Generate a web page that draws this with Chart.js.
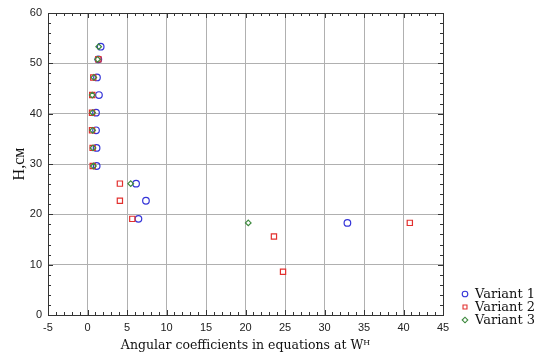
<!DOCTYPE html>
<html>
<head>
<meta charset="utf-8">
<script src="https://cdn.jsdelivr.net/npm/chart.js@4"></script>
<style>
  html, body { margin: 0; padding: 0; background: #fff; }
  #wrap { width: 537px; height: 354px; }
</style>
</head>
<body>
<div id="wrap"><canvas id="chart" width="537" height="354"></canvas></div>
<script>
// values
const seriesNames = ['Variant 1', 'Variant 2', 'Variant 3'];

const v1X = [1.67, 1.37, 1.2, 1.45, 1.08, 1.08, 1.15, 1.16, 6.15, 7.4, 6.45, 32.9];
const v1Y = [53.3, 50.8, 47.2, 43.7, 40.2, 36.7, 33.2, 29.6, 26.1, 22.7, 19.1, 18.3];

const v2X = [1.37, 0.73, 0.6, 0.57, 0.57, 0.65, 0.66, 4.1, 4.1, 5.67, 23.6, 24.75, 40.8];
const v2Y = [50.8, 47.2, 43.7, 40.2, 36.7, 33.2, 29.6, 26.1, 22.7, 19.1, 15.6, 8.6, 18.3];

const v3X = [1.42, 1.27, 0.8, 0.6, 0.65, 0.65, 0.7, 0.75, 5.47, 20.35];
const v3Y = [53.3, 50.8, 47.2, 43.7, 40.2, 36.7, 33.2, 29.6, 26.1, 18.3];

const xMin = -5, xMax = 45, xStep = 5, xMinor = 1;
const yMin = 0, yMax = 60, yStep = 10, yMinor = 2;

const xTitle = 'Angular coefficients in equations at W\u1D34';
const yTitle = 'H,см';

function makeSet(label, xs, ys, color, style, radius, order) {
    return {
        label: label,
        data: xs.map((x, i) => ({ x: x, y: ys[i] })),
        borderColor: color,
        backgroundColor: 'rgba(0,0,0,0)',
        pointStyle: style,
        pointRadius: radius,
        pointHoverRadius: radius,
        pointBorderWidth: 1.2,
        showLine: false,
        order: order
    };
}

const datasets = [
    makeSet(seriesNames[0], v1X, v1Y, '#3535d8', 'circle', 3.3, 3),
    makeSet(seriesNames[1], v2X, v2Y, '#e2302e', 'rect', 3.7, 2),
    makeSet(seriesNames[2], v3X, v3Y, '#3f8a3f', 'rectRot', 2.8, 1)
];

// frame + inward minor ticks on all four sides
const framePlugin = {
    id: 'frame',
    afterDatasetsDraw(chart) {
        const ctx = chart.ctx;
        const a = chart.chartArea;
        const xs = chart.scales.x, ys = chart.scales.y;
        ctx.save();
        ctx.strokeStyle = '#333';
        ctx.lineWidth = 1;
        ctx.beginPath();
        for (let v = xMin; v <= xMax + 1e-9; v += xMinor) {
            const p = Math.round(xs.getPixelForValue(v)) + 0.5;
            const len = (v - xMin) % xStep === 0 ? 5 : 3;
            ctx.moveTo(p, a.bottom); ctx.lineTo(p, a.bottom - len);
            ctx.moveTo(p, a.top); ctx.lineTo(p, a.top + len);
        }
        for (let v = yMin; v <= yMax + 1e-9; v += yMinor) {
            const p = Math.round(ys.getPixelForValue(v)) + 0.5;
            const len = (v - yMin) % yStep === 0 ? 5 : 3;
            ctx.moveTo(a.left, p); ctx.lineTo(a.left + len, p);
            ctx.moveTo(a.right, p); ctx.lineTo(a.right - len, p);
        }
        ctx.stroke();
        ctx.strokeRect(Math.round(a.left) + 0.5, Math.round(a.top) + 0.5,
            Math.round(a.right - a.left), Math.round(a.bottom - a.top));
        ctx.restore();
    }
};

// legend at the lower right, drawn from the datasets
const legendPlugin = {
    id: 'sideLegend',
    afterDraw(chart) {
        const ctx = chart.ctx;
        ctx.save();
        ctx.font = '13px "DejaVu Serif"';
        ctx.textBaseline = 'middle';
        chart.data.datasets.forEach((ds, i) => {
            const y = 294 + i * 13;
            ctx.strokeStyle = ds.borderColor;
            ctx.fillStyle = 'rgba(0,0,0,0)';
            ctx.lineWidth = 1.1;
            Chart.helpers.drawPoint(ctx, { pointStyle: ds.pointStyle, radius: 2.8, rotation: 0, borderWidth: 1.1 }, 465, y);
            ctx.fillStyle = '#111';
            ctx.fillText(ds.label, 475, y + 1);
        });
        ctx.restore();
    }
};

new Chart(document.getElementById('chart').getContext('2d'), {
    type: 'scatter',
    data: { datasets: datasets },
    options: {
        responsive: false,
        animation: false,
        layout: { padding: { top: 13, right: 94, left: 0, bottom: 0 } },
        plugins: {
            legend: { display: false },
            tooltip: { enabled: false }
        },
        scales: {
            x: {
                type: 'linear',
                min: xMin,
                max: xMax,
                afterFit: s => { s.height = 39; },
                ticks: { stepSize: xStep, color: '#222', padding: 6, font: { family: 'Liberation Sans', size: 11 } },
                grid: { color: '#b0b0b0', drawTicks: false },
                border: { display: false },
                title: {
                    display: true,
                    text: xTitle,
                    color: '#111',
                    font: { family: 'DejaVu Serif', size: 12.5 },
                    padding: { top: 0, bottom: 1 }
                }
            },
            y: {
                type: 'linear',
                min: yMin,
                max: yMax,
                afterFit: s => { s.width = 48; },
                ticks: { stepSize: yStep, color: '#222', padding: 6, font: { family: 'Liberation Sans', size: 11 } },
                grid: { color: '#b0b0b0', drawTicks: false },
                border: { display: false },
                title: {
                    display: true,
                    text: yTitle,
                    color: '#111',
                    font: { family: 'Liberation Serif', size: 16 },
                    padding: { top: 10, bottom: 0 }
                }
            }
        }
    },
    plugins: [framePlugin, legendPlugin]
});
</script>
</body>
</html>
